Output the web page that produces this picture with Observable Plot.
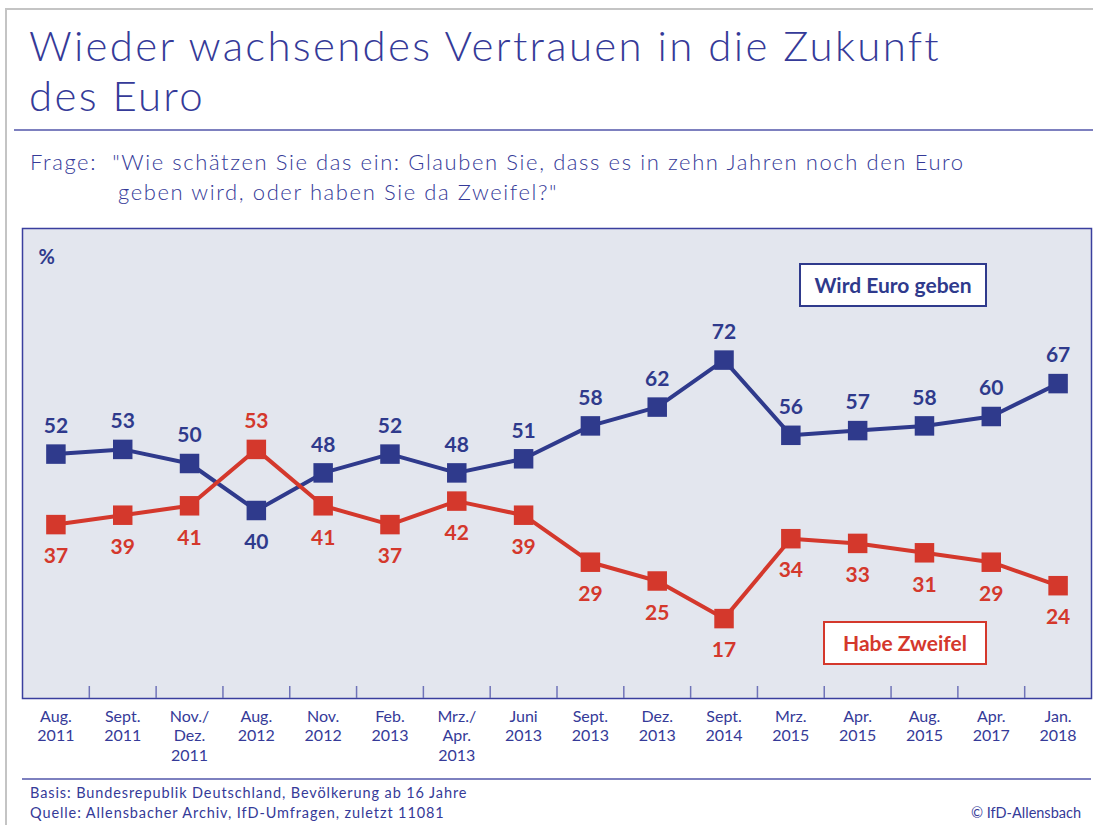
<!DOCTYPE html>
<html>
<head>
<meta charset="utf-8">
<script src="https://cdn.jsdelivr.net/npm/d3@7"></script>
<script src="https://cdn.jsdelivr.net/npm/@observablehq/plot@0.6"></script>
<style>
  html, body { margin: 0; padding: 0; background: #fff; }
  #page { position: relative; width: 1093px; height: 825px; overflow: hidden; font-family: Lato, "Open Sans", sans-serif; color: #353a98; }
  .abs { position: absolute; white-space: nowrap; }
  #frameTop { left: 5px; top: 8px; width: 1088px; height: 2px; background: #c4c4c4; }
  #frameLeft { left: 5px; top: 8px; width: 2px; height: 817px; background: #c4c4c4; }
  #title { left: 29px; top: 20px; font-size: 42px; font-weight: 300; line-height: 50px; letter-spacing: 2.3px; color: #353a98; }
  #sep1 { left: 14px; top: 129px; width: 1079px; height: 2px; background: #7d80bf; }
  #frage { left: 30px; top: 147px; font-size: 22px; font-weight: 300; line-height: 30px; letter-spacing: 1.6px; color: #353a98; }
  #chart { left: 0; top: 228px; }
  #sep2 { left: 22px; top: 778px; width: 1069px; height: 2px; background: #7d80bf; }
  #basis { left: 30px; top: 783px; font-size: 14.5px; line-height: 20px; letter-spacing: 0.9px; color: #353a98; }
  #copy { right: 12px; top: 803px; font-size: 14.5px; line-height: 20px; color: #353a98; }
  .legend { position: absolute; background: #fff; font-weight: 700; font-size: 21px; text-align: center; box-sizing: border-box; }
  #legBlue { left: 799px; top: 263px; width: 188px; height: 44px; line-height: 40px; border: 2px solid #2f3a8c; color: #2f3a8c; }
  #legRed { left: 823px; top: 621px; width: 164px; height: 44px; line-height: 40px; border: 2px solid #d4382c; color: #d4382c; }
</style>
</head>
<body>
<div id="page">
  <div id="frameTop" class="abs"></div>
  <div id="frameLeft" class="abs"></div>
  <div id="title" class="abs">Wieder wachsendes Vertrauen in die Zukunft<br>des Euro</div>
  <div id="sep1" class="abs"></div>
  <div id="frage" class="abs">Frage:&nbsp;&nbsp;"Wie schätzen Sie das ein: Glauben Sie, dass es in zehn Jahren noch den Euro<br><span style="padding-left:88px">geben wird, oder haben Sie da Zweifel?"</span></div>
  <div id="chart" class="abs"></div>
  <div id="legBlue" class="legend">Wird Euro geben</div>
  <div id="legRed" class="legend">Habe Zweifel</div>
  <div id="sep2" class="abs"></div>
  <div id="basis" class="abs">Basis: Bundesrepublik Deutschland, Bevölkerung ab 16 Jahre<br>Quelle: Allensbacher Archiv, IfD-Umfragen, zuletzt 11081</div>
  <div id="copy" class="abs">© IfD-Allensbach</div>
</div>
<script>
const categories = ["Aug.\n2011","Sept.\n2011","Nov./\nDez.\n2011","Aug.\n2012","Nov.\n2012","Feb.\n2013","Mrz./\nApr.\n2013","Juni\n2013","Sept.\n2013","Dez.\n2013","Sept.\n2014","Mrz.\n2015","Apr.\n2015","Aug.\n2015","Apr.\n2017","Jan.\n2018"];
const wirdEuroGeben = [52,53,50,40,48,52,48,51,58,62,72,56,57,58,60,67];
const habeZweifel   = [37,39,41,53,41,37,42,39,29,25,17,34,33,31,29,24];
const seriesNames = ["Wird Euro geben", "Habe Zweifel"];
const seriesColors = ["#2f3a8c", "#d4382c"];

const n = categories.length;
const rows = [];
categories.forEach((c, i) => {
  rows.push({i, series: seriesNames[0], value: wirdEuroGeben[i], above: wirdEuroGeben[i] >= habeZweifel[i]});
  rows.push({i, series: seriesNames[1], value: habeZweifel[i], above: habeZweifel[i] > wirdEuroGeben[i]});
});
const boundaries = d3.range(n - 1).map(i => i + 0.5);
const color = {domain: seriesNames, range: seriesColors};

const chart = Plot.plot({
  width: 1093,
  height: 540,
  marginLeft: 22,
  marginRight: 2,
  marginTop: 0,
  marginBottom: 70,
  style: {fontFamily: "Lato, 'Open Sans', sans-serif", background: "transparent", overflow: "visible"},
  x: {domain: [-0.5, n - 0.5], label: null},
  y: {domain: [0, 100], label: null, axis: null},
  color,
  marks: [
    Plot.frame({fill: "#e3e6ee", stroke: "#3a3f9e", strokeWidth: 1.5}),
    Plot.axisX(boundaries, {tickSize: 12, dy: -12, tickFormat: () => "", label: null, stroke: "#6f73b8", strokeWidth: 1.5}),
    Plot.axisX(d3.range(n), {tickSize: 0, tickPadding: 10, tickFormat: i => categories[i], label: null, fontSize: 16, fill: "#353a98", lineHeight: 1.2}),
    Plot.text(["%"], {frameAnchor: "top-left", dx: 16, dy: 21, fontSize: 20, fontWeight: 700, fill: "#2f3a8c"}),
    Plot.line(rows, {x: "i", y: "value", z: "series", stroke: "series", strokeWidth: 4}),
    Plot.dot(rows, {x: "i", y: "value", fill: "series", symbol: "square", r: 11}),
    Plot.text(rows.filter(d => d.above), {x: "i", y: "value", text: d => String(d.value), fill: "series", dy: -28, fontSize: 21, fontWeight: 700}),
    Plot.text(rows.filter(d => !d.above), {x: "i", y: "value", text: d => String(d.value), fill: "series", dy: 32, fontSize: 21, fontWeight: 700})
  ]
});
document.getElementById("chart").appendChild(chart);
</script>
</body>
</html>
